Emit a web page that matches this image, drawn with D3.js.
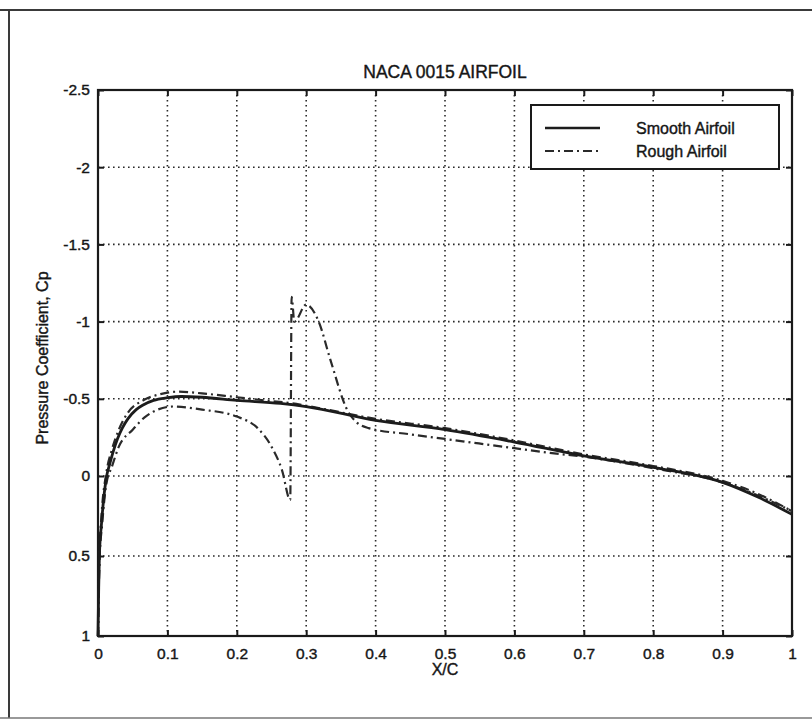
<!DOCTYPE html>
<html>
<head>
<meta charset="utf-8">
<script src="https://cdn.jsdelivr.net/npm/d3@7"></script>
<style>
  html, body { margin: 0; padding: 0; background: #fff; }
  svg { display: block; }
  text { font-family: "Liberation Sans", Arial, Helvetica, sans-serif; fill: #161616; }
</style>
</head>
<body>
<svg id="chart" width="812" height="726"></svg>
<script>
// Tick values
const xTicks = [0, 0.1, 0.2, 0.3, 0.4, 0.5, 0.6, 0.7, 0.8, 0.9, 1];
const yTicks = [-2.5, -2, -1.5, -1, -0.5, 0, 0.5, 1];
const xTickLabels = ["0", "0.1", "0.2", "0.3", "0.4", "0.5", "0.6", "0.7", "0.8", "0.9", "1"];
const yTickLabels = ["-2.5", "-2", "-1.5", "-1", "-0.5", "0", "0.5", "1"];

// Smooth airfoil: pressure coefficient along the chord
const smoothX  = [0, 0.001, 0.002, 0.005, 0.008, 0.0125, 0.017, 0.022, 0.028, 0.035, 0.043, 0.055, 0.065, 0.08, 0.1, 0.12, 0.15, 0.2, 0.263, 0.3, 0.4, 0.5, 0.6, 0.7, 0.8, 0.9, 0.95, 1.0];
const smoothCp = [1.0, 0.7, 0.5, 0.3, 0.15, 0.0, -0.08, -0.16, -0.24, -0.31, -0.37, -0.43, -0.46, -0.49, -0.507, -0.515, -0.51, -0.49, -0.47, -0.45, -0.36, -0.3, -0.22, -0.13, -0.056, 0.04, 0.13, 0.24];

// Rough airfoil, first surface (runs just above the smooth curve)
const roughAX  = [0, 0.002, 0.005, 0.012, 0.02, 0.03, 0.043, 0.065, 0.09, 0.115, 0.15, 0.2, 0.24, 0.28, 0.3, 0.4, 0.5, 0.6, 0.7, 0.8, 0.9, 0.95, 1.0];
const roughACp = [1.0, 0.5, 0.25, -0.02, -0.17, -0.3, -0.41, -0.49, -0.53, -0.546, -0.535, -0.51, -0.49, -0.47, -0.455, -0.37, -0.31, -0.23, -0.14, -0.065, 0.03, 0.11, 0.22];

// Rough airfoil, second surface (with the disturbance near x/c = 0.28)
const roughBX  = [0, 0.002, 0.006, 0.012, 0.02, 0.03, 0.05, 0.07, 0.108, 0.15, 0.2, 0.23, 0.25, 0.265, 0.277, 0.279, 0.283, 0.3, 0.318, 0.335, 0.36, 0.372, 0.39, 0.45, 0.5, 0.6, 0.65, 0.7, 0.8, 0.9, 0.95, 1.0];
const roughBCp = [1.0, 0.55, 0.3, 0.05, -0.06, -0.19, -0.3, -0.39, -0.45, -0.43, -0.385, -0.31, -0.19, -0.04, 0.15, -1.16, -1.0, -1.11, -1.0, -0.75, -0.42, -0.35, -0.31, -0.27, -0.24, -0.18, -0.15, -0.125, -0.05, 0.04, 0.12, 0.22];

const seriesNames = ["Smooth Airfoil", "Rough Airfoil"];
const titleText = "NACA 0015 AIRFOIL";
const xLabel = "X/C";
const yLabel = "Pressure Coefficient, Cp";

const svg = d3.select("#chart");

// Page frame around the figure
const frame = svg.append("g").attr("stroke", "#3a3a3a").attr("fill", "none");
frame.append("line").attr("x1", 0).attr("x2", 812).attr("y1", 10).attr("y2", 10).attr("stroke-width", 2);
frame.append("line").attr("x1", 9).attr("x2", 9).attr("y1", 10).attr("y2", 718).attr("stroke-width", 2);
frame.append("line").attr("x1", 0).attr("x2", 812).attr("y1", 718).attr("y2", 718).attr("stroke-width", 1.5).attr("stroke", "#777");

const plot = { left: 98, right: 792, top: 90, bottom: 636 };

const x = d3.scaleLinear().domain([0, 1]).range([plot.left, plot.right]);
const y = d3.scaleLinear().domain([-2.5, 0, 1]).range([plot.top, 476, plot.bottom]);

// Dotted grid
const grid = svg.append("g").attr("stroke", "#2a2a2a").attr("stroke-width", 1.6)
  .attr("stroke-dasharray", "1.6,3.4").attr("fill", "none");
grid.selectAll(".gx").data(xTicks.slice(1, -1)).join("line")
  .attr("x1", d => x(d)).attr("x2", d => x(d))
  .attr("y1", plot.top).attr("y2", plot.bottom);
grid.selectAll(".gy").data(yTicks.slice(1, -1)).join("line")
  .attr("x1", plot.left).attr("x2", plot.right)
  .attr("y1", d => y(d)).attr("y2", d => y(d));

// Axes with inward ticks on all four sides
const tickLen = 6;
const axB = svg.append("g").attr("transform", `translate(0,${plot.bottom})`)
  .call(d3.axisBottom(x).tickValues(xTicks).tickSize(-tickLen).tickPadding(12)
    .tickFormat((d, i) => xTickLabels[i]));
const axT = svg.append("g").attr("transform", `translate(0,${plot.top})`)
  .call(d3.axisTop(x).tickValues(xTicks).tickSize(-tickLen).tickFormat(""));
const axL = svg.append("g").attr("transform", `translate(${plot.left},0)`)
  .call(d3.axisLeft(y).tickValues(yTicks).tickSize(-tickLen).tickPadding(8)
    .tickFormat((d, i) => yTickLabels[i]));
const axR = svg.append("g").attr("transform", `translate(${plot.right},0)`)
  .call(d3.axisRight(y).tickValues(yTicks).tickSize(-tickLen).tickFormat(""));

[axB, axT, axL, axR].forEach(a => {
  a.select(".domain").remove();
  a.selectAll(".tick line").attr("stroke", "#1a1a1a").attr("stroke-width", 2);
  a.selectAll(".tick text").attr("font-size", 15.5).attr("fill", "#161616")
    .attr("stroke", "#161616").attr("stroke-width", 0.4);
});
axB.selectAll(".tick text").attr("dy", "0.71em");

// Plot box
svg.append("rect")
  .attr("x", plot.left).attr("y", plot.top)
  .attr("width", plot.right - plot.left).attr("height", plot.bottom - plot.top)
  .attr("fill", "none").attr("stroke", "#1a1a1a").attr("stroke-width", 2.2);

// Curves
const line = d3.line().x(d => x(d[0])).y(d => y(d[1])).curve(d3.curveMonotoneX);
const zip = (a, b) => a.map((v, i) => [v, b[i]]);

const dashDot = "9,4,2,4";
svg.append("path").datum(zip(roughAX, roughACp)).attr("d", line)
  .attr("fill", "none").attr("stroke", "#2a2a2a").attr("stroke-width", 2.2)
  .attr("stroke-dasharray", dashDot);
svg.append("path").datum(zip(roughBX, roughBCp)).attr("d", line)
  .attr("fill", "none").attr("stroke", "#2a2a2a").attr("stroke-width", 2.2)
  .attr("stroke-dasharray", dashDot);
svg.append("path").datum(zip(smoothX, smoothCp)).attr("d", line)
  .attr("fill", "none").attr("stroke", "#1c1c1c").attr("stroke-width", 2.8);

// Title and axis labels
svg.append("text").attr("x", 445).attr("y", 78).attr("text-anchor", "middle")
  .attr("font-size", 17.5).attr("stroke", "#161616").attr("stroke-width", 0.4).text(titleText);
svg.append("text").attr("x", 445).attr("y", 675).attr("text-anchor", "middle")
  .attr("font-size", 16).attr("stroke", "#161616").attr("stroke-width", 0.4).text(xLabel);
svg.append("text").attr("transform", "translate(48,358) rotate(-90)").attr("text-anchor", "middle")
  .attr("font-size", 16).attr("stroke", "#161616").attr("stroke-width", 0.4).text(yLabel);

// Legend
const lg = svg.append("g");
lg.append("rect").attr("x", 531).attr("y", 105).attr("width", 248).attr("height", 64)
  .attr("fill", "#fff").attr("stroke", "#1a1a1a").attr("stroke-width", 2);
const legendY = [128, 151];
lg.append("line").attr("x1", 545).attr("x2", 600).attr("y1", legendY[0]).attr("y2", legendY[0])
  .attr("stroke", "#1c1c1c").attr("stroke-width", 2.4);
lg.append("line").attr("x1", 545).attr("x2", 600).attr("y1", legendY[1]).attr("y2", legendY[1])
  .attr("stroke", "#2a2a2a").attr("stroke-width", 2.2).attr("stroke-dasharray", dashDot);
seriesNames.forEach((n, i) => {
  lg.append("text").attr("x", 636).attr("y", legendY[i] + 5.5).attr("font-size", 16)
    .attr("stroke", "#161616").attr("stroke-width", 0.4).text(n);
});
</script>
</body>
</html>
